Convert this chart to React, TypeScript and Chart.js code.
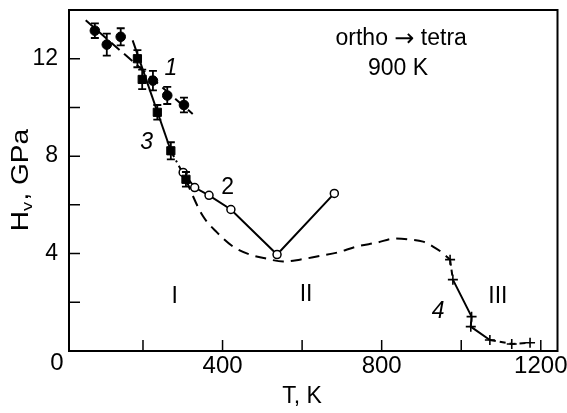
import React, { useEffect, useRef } from 'react';
import { Chart, registerables } from 'chart.js';
Chart.register(...registerables);

// Curve 1: filled circles with error bars
const S1_T = [79, 109, 144, 225, 261, 303];
const S1_H = [13.15, 12.58, 12.9, 11.1, 10.49, 10.1];
const S1_ERR = [0.3, 0.45, 0.35, 0.4, 0.35, 0.3];
// Curve 1 fit (dashed)
const FIT1_T = [56, 325];
const FIT1_H = [13.58, 9.73];
// Curve 3: filled squares with error bars
const S3_T = [186, 198, 236, 270, 308];
const S3_H = [12.0, 11.15, 9.8, 8.22, 7.05];
const S3_ERR = [0.35, 0.4, 0.3, 0.35, 0.3];
// Curve 3 fit (solid, then dash-dot)
const FIT3_T = [174, 270, 308];
const FIT3_H = [12.75, 8.22, 7.05];
// Curve 2: open circles
const S2_T = [301, 330, 366, 421, 537, 681];
const S2_H = [7.33, 6.71, 6.39, 5.81, 3.96, 6.47];
// Dashed guide curve
const GUIDE_T = [308, 318, 351, 386, 426, 469, 511, 552, 594, 637, 688, 738, 788, 833, 871, 904, 929, 952, 972];
const GUIDE_H = [7.05, 6.64, 5.53, 4.87, 4.29, 3.96, 3.79, 3.67, 3.75, 3.88, 4.04, 4.29, 4.45, 4.62, 4.58, 4.49, 4.29, 4.04, 3.75];
// Curve 4: crosses
const S4_T = [972, 979, 1026, 1024, 1072, 1127, 1173];
const S4_H = [3.75, 2.93, 1.41, 1.0, 0.45, 0.29, 0.34];
const S4_DASHED_SEGMENTS = [0, 4, 5];

const X_TICKS = [200, 400, 600, 800, 1000, 1200];
const X_LABELS = [400, 800, 1200];
const Y_TICKS = [2, 4, 6, 8, 10, 12];
const Y_LABELS = [4, 8, 12];

// annotation texts
const NOTE_TEXT = ['1', '3', '2', '4', 'I', 'II', 'III', 'ortho \u2192 tetra', '900 K'];
const NOTE_T = [270, 209, 413, 942, 280, 610, 1092, 849, 841];
const NOTE_H = [11.59, 8.54, 6.72, 1.61, 2.23, 2.31, 2.23, 12.82, 11.59];
const NOTE_ITALIC = [true, true, false, true, false, false, false, false, false];

const FONT = '"Liberation Sans", Arial, sans-serif';
const ARROW_FONT = '"DejaVu Sans", sans-serif';

const zip = (xs: number[], ys: number[]) => xs.map((x, i) => ({ x, y: ys[i] }));

const customPlugin = {
  id: 'custom',
  afterDatasetsDraw(chart: any) {
    const ctx = chart.ctx;
    const ys = chart.scales.y;
    ctx.save();
    ctx.strokeStyle = '#000';
    ctx.lineWidth = 1.8;
    const bars = (dsIndex: number, errs: number[], hs: number[]) => {
      const meta = chart.getDatasetMeta(dsIndex);
      meta.data.forEach((pt: any, i: number) => {
        const x = pt.x;
        const y1 = ys.getPixelForValue(hs[i] + errs[i]);
        const y2 = ys.getPixelForValue(hs[i] - errs[i]);
        ctx.beginPath();
        ctx.moveTo(x, y1); ctx.lineTo(x, y2);
        ctx.moveTo(x - 4, y1); ctx.lineTo(x + 4, y1);
        ctx.moveTo(x - 4, y2); ctx.lineTo(x + 4, y2);
        ctx.stroke();
      });
    };
    bars(0, S1_ERR, S1_H);
    bars(1, S3_ERR, S3_H);
    ctx.restore();
  },
  afterDraw(chart: any) {
    const ctx = chart.ctx;
    const { left, right, top, bottom } = chart.chartArea;
    const xs = chart.scales.x;
    const ys = chart.scales.y;
    ctx.save();
    ctx.strokeStyle = '#000';
    ctx.lineWidth = 2;
    ctx.strokeRect(left, top, right - left, bottom - top);
    ctx.lineWidth = 1.5;
    ctx.beginPath();
    X_TICKS.forEach((v) => {
      const x = xs.getPixelForValue(v);
      ctx.moveTo(x, bottom); ctx.lineTo(x, bottom - 11);
    });
    Y_TICKS.forEach((v) => {
      const y = ys.getPixelForValue(v);
      ctx.moveTo(left, y); ctx.lineTo(left + 11, y);
    });
    ctx.stroke();

    ctx.fillStyle = '#000';
    ctx.textBaseline = 'middle';
    NOTE_TEXT.forEach((t, i) => {
      const font = (NOTE_ITALIC[i] ? 'italic ' : '') + '23px ' + FONT;
      const cx = xs.getPixelForValue(NOTE_T[i]);
      const cy = ys.getPixelForValue(NOTE_H[i]);
      if (t.includes('\u2192')) {
        const [a, b] = t.split('\u2192');
        ctx.font = font; const wa = ctx.measureText(a).width; const wb = ctx.measureText(b).width;
        ctx.font = '24px ' + ARROW_FONT; const warr = ctx.measureText('\u2192').width;
        let x0 = cx - (wa + wb + warr) / 2;
        ctx.textAlign = 'left';
        ctx.font = font; ctx.fillText(a, x0, cy); x0 += wa;
        ctx.font = '24px ' + ARROW_FONT; ctx.fillText('\u2192', x0, cy + 1); x0 += warr;
        ctx.font = font; ctx.fillText(b, x0, cy);
      } else {
        ctx.textAlign = 'center';
        ctx.font = font;
        ctx.fillText(t, cx, cy);
      }
    });

    ctx.textAlign = 'center';
    // corner zero
    ctx.font = '24px ' + FONT;
    ctx.fillText('0', left - 12, bottom + 12);

    // x title
    ctx.font = '23px ' + FONT;
    ctx.fillText('T, K', left + 233, bottom + 46);

    // y title with subscript
    ctx.translate(22, 180);
    ctx.rotate(-Math.PI / 2);
    ctx.scale(1.22, 1);
    ctx.textAlign = 'left';
    const big = '23px ' + FONT;
    const small = '15px ' + FONT;
    ctx.font = big; const wH = ctx.measureText('H').width;
    const wR = ctx.measureText(', GPa').width;
    ctx.font = small; const wv = ctx.measureText('v').width;
    const total = wH + wv + wR + 1;
    let x0 = -total / 2;
    ctx.font = big; ctx.fillText('H', x0, 0); x0 += wH;
    ctx.font = small; ctx.fillText('v', x0, 6); x0 += wv + 1;
    ctx.font = big; ctx.fillText(', GPa', x0, 0);
    ctx.restore();
  },
};

export default function App() {
  const ref = useRef<HTMLCanvasElement | null>(null);
  useEffect(() => {
    document.body.style.margin = '0';
    const canvas = ref.current!;
    const chart = new Chart(canvas, {
      type: 'scatter',
      data: {
        datasets: [
          {
            label: '1', data: zip(S1_T, S1_H), showLine: false,
            pointStyle: 'circle', pointRadius: 4.8, backgroundColor: '#000', borderColor: '#000',
          },
          {
            label: '3', data: zip(S3_T, S3_H), showLine: false,
            pointStyle: 'rect', pointRadius: 5.8, backgroundColor: '#000', borderColor: '#000',
          },
          {
            label: '2', data: zip(S2_T, S2_H), showLine: true,
            pointStyle: 'circle', pointRadius: 4, backgroundColor: '#fff', borderColor: '#000',
            pointBorderWidth: 1.5, borderWidth: 2, tension: 0,
          },
          {
            label: '4', data: zip(S4_T, S4_H), showLine: true,
            pointStyle: 'cross', pointRadius: 5, borderColor: '#000', pointBorderWidth: 1.6,
            borderWidth: 2, tension: 0, borderDash: [],
            segment: {
              borderDash: (c: any) => (S4_DASHED_SEGMENTS.includes(c.p0DataIndex) ? [6, 4] : []),
            },
          },
          {
            label: 'fit1', data: zip(FIT1_T, FIT1_H), showLine: true, pointRadius: 0,
            borderColor: '#000', borderWidth: 2, borderDash: [11, 6],
          },
          {
            label: 'fit3', data: zip(FIT3_T, FIT3_H), showLine: true, pointRadius: 0,
            borderColor: '#000', borderWidth: 2, borderDash: [],
            segment: { borderDash: (c: any) => (c.p0DataIndex >= 1 ? [7, 4, 2, 4] : []) },
          },
          {
            label: 'guide', data: zip(GUIDE_T, GUIDE_H), showLine: true, pointRadius: 0,
            borderColor: '#000', borderWidth: 2, borderDash: [11, 7], tension: 0.4,
            cubicInterpolationMode: 'monotone',
          },
        ],
      },
      options: {
        responsive: false,
        animation: false,
        layout: { padding: { top: 10, right: 9.5, left: 0, bottom: 0 } },
        plugins: { legend: { display: false }, tooltip: { enabled: false } },
        scales: {
          x: {
            type: 'linear', min: 14, max: 1242,
            grid: { display: false, drawTicks: false },
            border: { display: false },
            afterBuildTicks: (s: any) => { s.ticks = X_TICKS.map((v) => ({ value: v })); },
            afterFit: (s: any) => { s.height = 62; s.paddingLeft = 0; s.paddingRight = 0; },
            ticks: {
              autoSkip: false, maxRotation: 0, minRotation: 0, padding: 1, color: '#000',
              font: { family: FONT, size: 24 },
              callback: (v: any) => (X_LABELS.includes(Number(v)) ? String(v) : ''),
            },
          },
          y: {
            type: 'linear', min: 0, max: 14,
            grid: { display: false, drawTicks: false },
            border: { display: false },
            afterBuildTicks: (s: any) => { s.ticks = Y_TICKS.map((v) => ({ value: v })); },
            afterFit: (s: any) => { s.width = 69; s.paddingTop = 0; s.paddingBottom = 0; },
            ticks: {
              autoSkip: false, padding: 11, color: '#000',
              font: { family: FONT, size: 23 },
              callback: (v: any) => (Y_LABELS.includes(Number(v)) ? String(v) : ''),
            },
          },
        },
      },
      plugins: [customPlugin],
    } as any);
    return () => chart.destroy();
  }, []);
  return (
    <div style={{ width: 567, height: 413, background: '#fff' }}>
      <canvas ref={ref} width={567} height={413} style={{ display: 'block' }} />
    </div>
  );
}
